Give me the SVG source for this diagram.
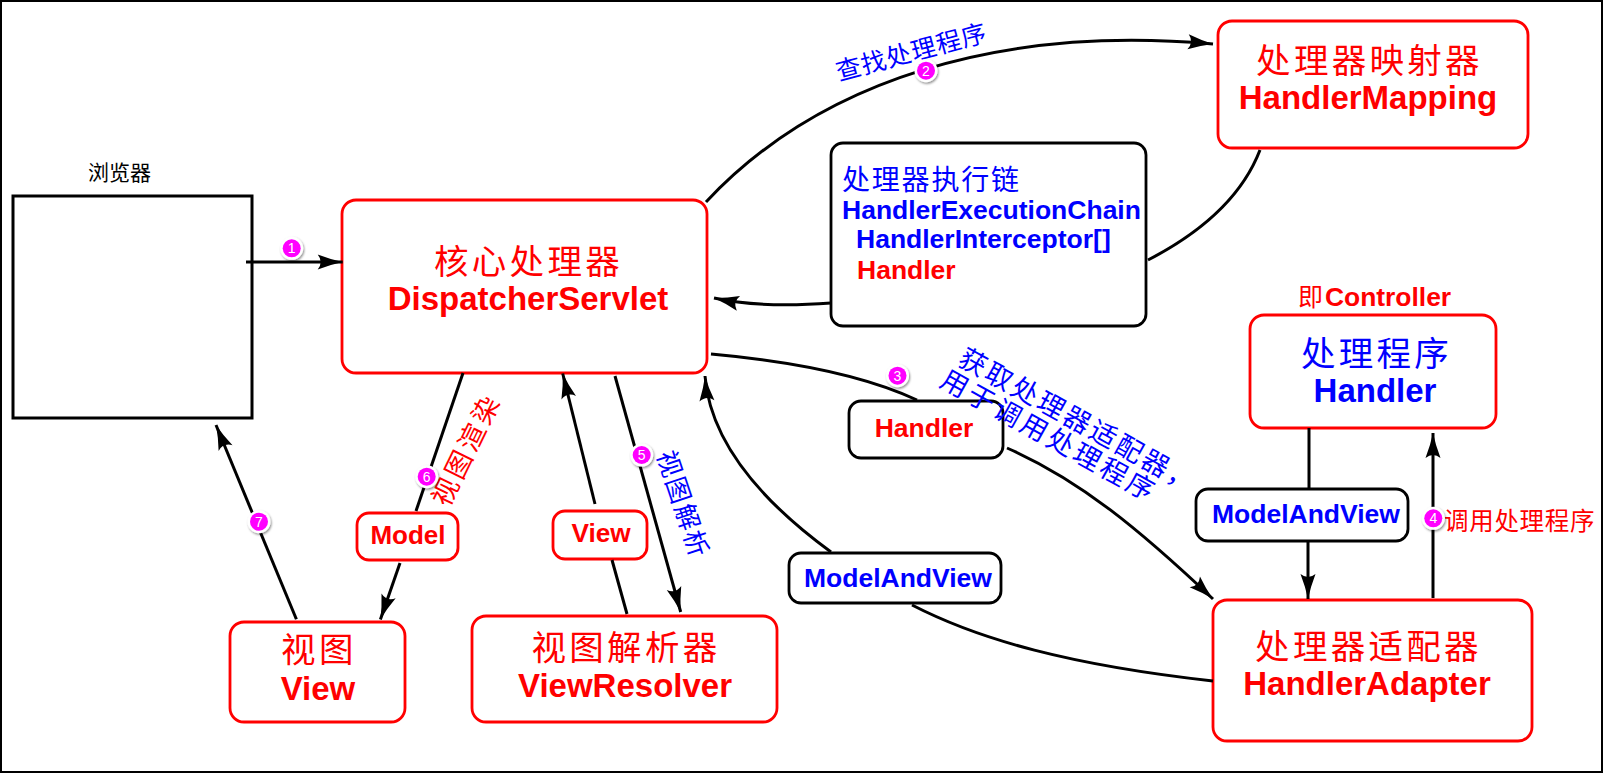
<svg xmlns="http://www.w3.org/2000/svg" width="1604" height="773" viewBox="0 0 1604 773">
<style>
.bg{fill:#fff}
.frame{fill:none;stroke:#000;stroke-width:2}
.br{fill:#fff;stroke:#f00;stroke-width:2.8}
.bk{fill:#fff;stroke:#000;stroke-width:2.8}
.bx{fill:none;stroke:#000;stroke-width:3}
.conn{fill:none;stroke:#000;stroke-width:3}
.arr{marker-end:url(#ah)}
.cjk{font-family:"Noto Sans CJK SC","Noto Sans",sans-serif}
.lat{font-family:"Liberation Sans",Arial,sans-serif;font-weight:bold}
.red{fill:#f00}
.blue{fill:#00f}
.blk{fill:#000}
.mid{text-anchor:middle}
.tc{font-size:34.5px;letter-spacing:3.3px}
.tl{font-size:33px}
.sl{font-size:26.5px}
.bw{fill:#fff;filter:url(#sh)}
.bm{fill:#f0f}
.bn{fill:#fff;font-family:"Liberation Sans",Arial,sans-serif;font-size:14px;text-anchor:middle}
</style>
<defs>
<marker id="ah" markerUnits="userSpaceOnUse" markerWidth="30" markerHeight="20" viewBox="-28 -10 30 20" refX="0" refY="0" orient="auto">
<path d="M0,0 Q-12,-2.5 -25,-7.5 Q-19,0 -25,7.5 Q-12,2.5 0,0 Z" fill="#000"/>
</marker>
<filter id="sh" x="-50%" y="-50%" width="200%" height="200%">
<feDropShadow dx="1" dy="1.5" stdDeviation="1" flood-color="#000" flood-opacity="0.45"/>
</filter>
</defs>
<rect class="bg" x="0" y="0" width="1604" height="773"/>
<rect class="frame" x="1" y="1" width="1601" height="771"/>

<g id="node-browser">
<text class="cjk blk" x="88" y="180" font-size="21">浏览器</text>
<rect class="bx" x="13" y="196" width="239" height="222"/>
</g>

<g id="node-dispatcher">
<rect class="br" x="342" y="200" width="365" height="173" rx="14"/>
<text class="cjk red tc mid" x="528.5" y="274">核心处理器</text>
<text class="lat red tl mid" x="528" y="310">DispatcherServlet</text>
</g>

<g id="node-handlermapping">
<rect class="br" x="1218" y="21" width="310" height="127" rx="14"/>
<text class="cjk red tc mid" x="1369.5" y="72.5">处理器映射器</text>
<text class="lat red tl mid" x="1368" y="109">HandlerMapping</text>
</g>

<g id="node-chain">
<rect class="bk" x="831" y="143" width="315" height="183" rx="12"/>
<text class="cjk blue" x="842" y="189.5" font-size="28" letter-spacing="1.8">处理器执行链</text>
<text class="lat blue sl" x="842" y="219">HandlerExecutionChain</text>
<text class="lat blue sl" x="856" y="248">HandlerInterceptor[]</text>
<text class="lat red sl" x="857" y="279">Handler</text>
</g>

<g id="node-controller-note">
<text class="red" x="1298" y="306"><tspan class="cjk" font-size="25">即</tspan><tspan class="lat" x="1325" font-size="26.4">Controller</tspan></text>
</g>

<g id="node-handler">
<rect class="br" x="1250" y="315" width="246" height="113" rx="14"/>
<text class="cjk blue tc mid" x="1376.5" y="365.5">处理程序</text>
<text class="lat blue tl mid" x="1375" y="402">Handler</text>
</g>

<g id="node-handleradapter">
<rect class="br" x="1213" y="600" width="319" height="141" rx="14"/>
<text class="cjk red tc mid" x="1368.5" y="658.5">处理器适配器</text>
<text class="lat red tl mid" x="1367" y="695">HandlerAdapter</text>
</g>

<g id="node-viewresolver">
<rect class="br" x="472" y="616" width="305" height="106" rx="14"/>
<text class="cjk red tc mid" x="626" y="659.5">视图解析器</text>
<text class="lat red tl mid" x="625" y="696.5">ViewResolver</text>
</g>

<g id="node-view">
<rect class="br" x="230" y="622" width="175" height="100" rx="14"/>
<text class="cjk red mid" x="319" y="661.5" font-size="34.5" letter-spacing="3.5">视图</text>
<text class="lat red tl mid" x="318" y="699.5">View</text>
</g>

<g id="node-handler-label">
<rect class="bk" x="849" y="401" width="154" height="57" rx="12"/>
<text class="lat red sl mid" x="924" y="437">Handler</text>
</g>

<g id="node-mav-center">
<rect class="bk" x="789" y="553" width="212" height="50" rx="12"/>
<text class="lat blue sl mid" x="898" y="587">ModelAndView</text>
</g>

<g id="node-mav-right">
<rect class="bk" x="1196" y="489" width="212" height="52" rx="12"/>
<text class="lat blue sl mid" x="1306" y="523">ModelAndView</text>
</g>

<g id="node-model-label">
<rect class="br" x="357" y="513" width="101" height="47" rx="12"/>
<text class="lat red mid" x="408" y="544" font-size="26">Model</text>
</g>

<g id="node-view-label">
<rect class="br" x="553" y="511" width="94" height="48" rx="12"/>
<text class="lat red mid" x="601" y="542" font-size="26.2">View</text>
</g>

<g id="connectors">
<path class="conn arr" d="M246,262 L342.7,262"/>
<path class="conn arr" d="M706,202 C820,80 1000,25 1213,44"/>
<path class="conn" d="M1260,150 Q1235,215 1148,260"/>
<path class="conn arr" d="M831,303 C790,306 750,306 714,298"/>
<path class="conn" d="M711,354 C800,362 870,378 917,400"/>
<path class="conn arr" d="M1007,448 C1080,480 1140,530 1213,599"/>
<path class="conn" d="M1309,428 L1309,489"/>
<path class="conn arr" d="M1308,541 L1308,599"/>
<path class="conn arr" d="M1433,598 L1433,433"/>
<path class="conn" d="M1213,681 C1070,665 980,640 912,605"/>
<path class="conn arr" d="M831,552 C760,500 710,440 705,376"/>
<path class="conn arr" d="M615,376 L680.7,612"/>
<path class="conn" d="M627,614 L612,560"/>
<path class="conn arr" d="M595,504 L562.7,373.5"/>
<path class="conn" d="M463,373 L416,511"/>
<path class="conn arr" d="M400,563 L380.4,619.5"/>
<path class="conn arr" d="M296.4,619.3 L216,425"/>
</g>

<g id="edge-labels">
<g transform="translate(910.8,51.7) rotate(-15)"><text class="cjk blue mid" x="0.5" y="9.5" font-size="25" letter-spacing="0.9">查找处理程序</text></g>
<g transform="translate(973.3,361.7) rotate(29)">
<text class="cjk blue" x="-13.5" y="10.2" font-size="27" letter-spacing="2.8">获取处理器适配器，</text>
<text class="cjk blue" x="-19.2" y="37.9" font-size="27" letter-spacing="3.3">用于调用处理程序</text>
</g>
<text class="cjk red" x="1444" y="530" font-size="24.5" letter-spacing="0.7">调用处理程序</text>
<g transform="translate(683.3,503.3) rotate(71.5)"><text class="cjk blue mid" x="1" y="9.9" font-size="26" letter-spacing="2">视图解析</text></g>
<g transform="translate(465,450.8) rotate(-64)"><text class="cjk red mid" x="1.6" y="10.2" font-size="27" letter-spacing="3.3">视图渲染</text></g>
</g>

<g id="badges">
<g transform="translate(291.7,248.3)"><circle class="bw" r="11.5"/><circle class="bm" r="9"/><text class="bn" y="5">1</text></g>
<g transform="translate(926,70.7)"><circle class="bw" r="11.5"/><circle class="bm" r="9"/><text class="bn" y="5">2</text></g>
<g transform="translate(897.5,375.7)"><circle class="bw" r="11.5"/><circle class="bm" r="9"/><text class="bn" y="5">3</text></g>
<g transform="translate(1433.3,518.3)"><circle class="bw" r="11.5"/><circle class="bm" r="9"/><text class="bn" y="5">4</text></g>
<g transform="translate(641.7,455)"><circle class="bw" r="11.5"/><circle class="bm" r="9"/><text class="bn" y="5">5</text></g>
<g transform="translate(426.7,476.7)"><circle class="bw" r="11.5"/><circle class="bm" r="9"/><text class="bn" y="5">6</text></g>
<g transform="translate(259,521.7)"><circle class="bw" r="11.5"/><circle class="bm" r="9"/><text class="bn" y="5">7</text></g>
</g>
</svg>
